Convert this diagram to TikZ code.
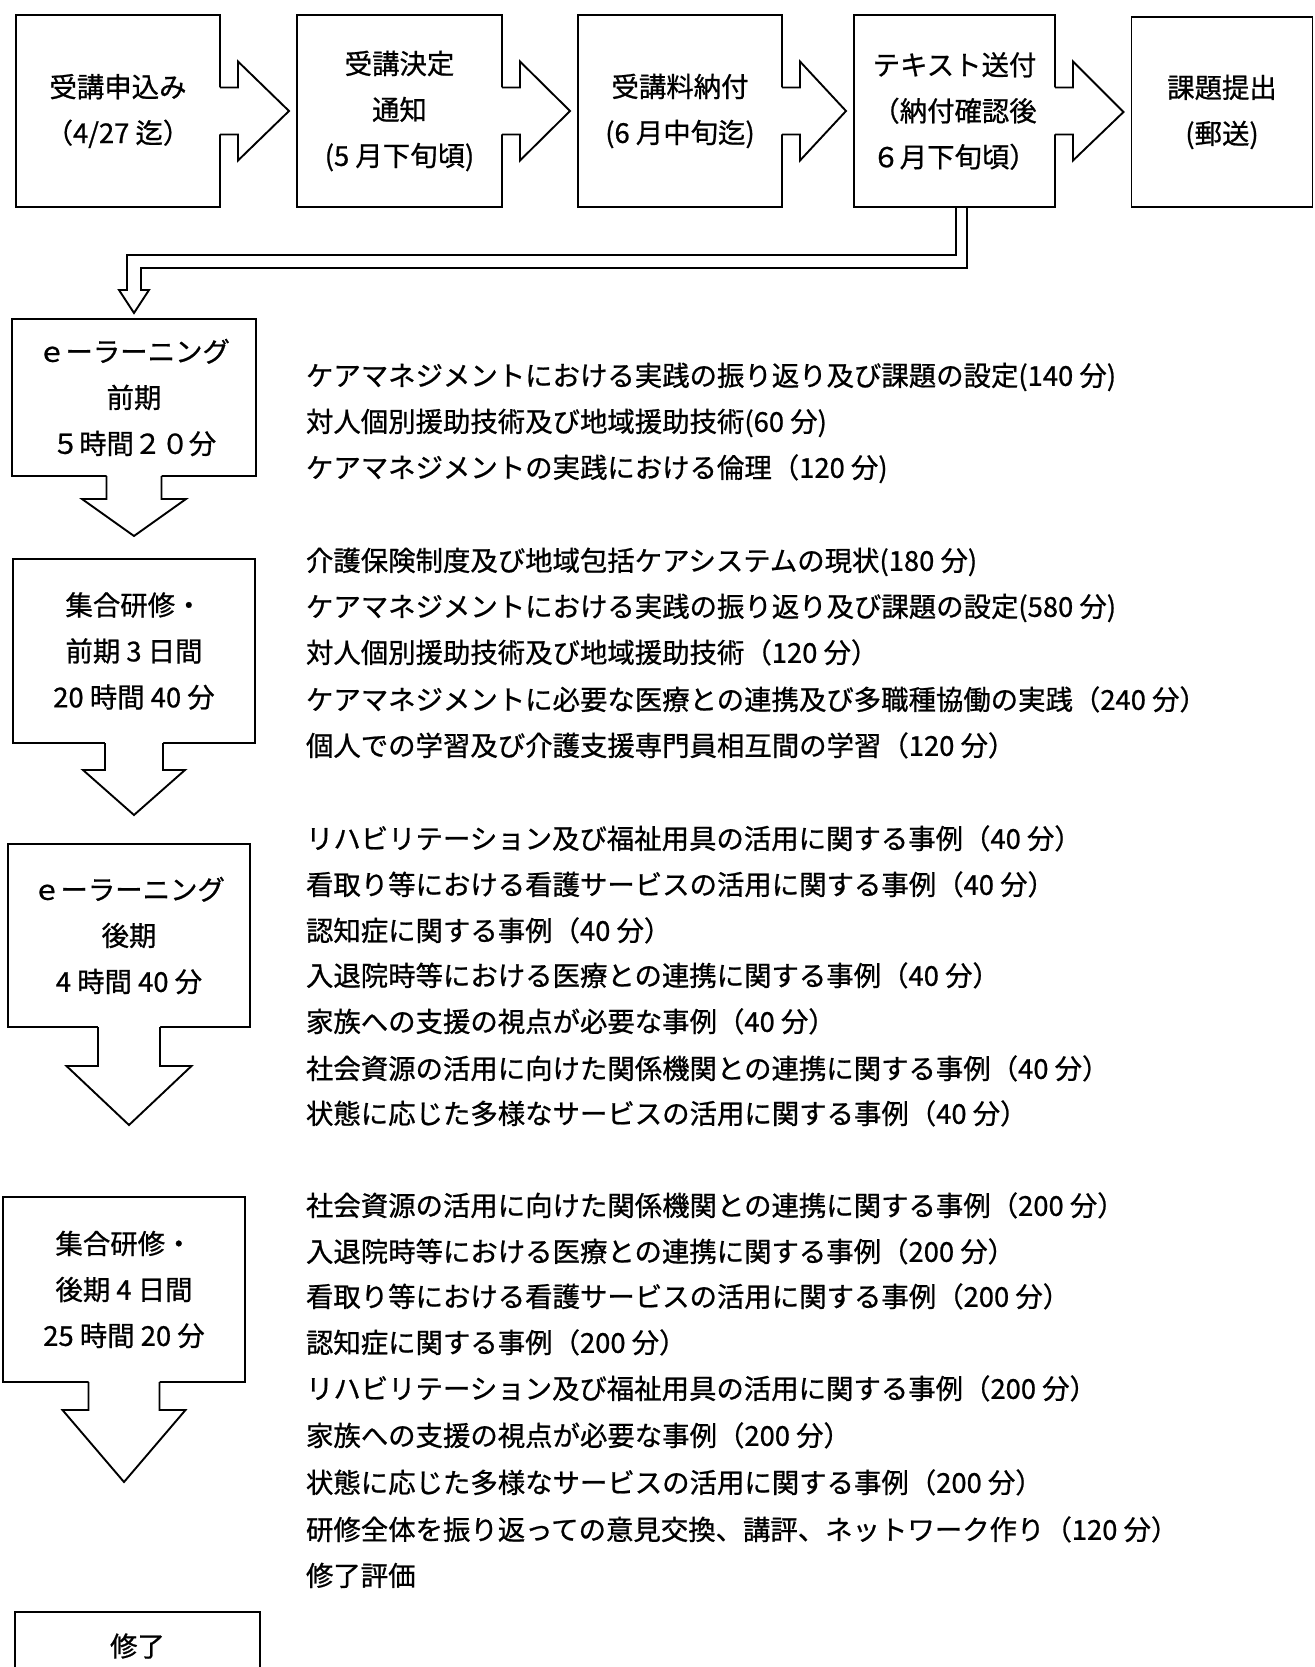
\documentclass[tikz,border=0pt]{standalone}
\usepackage{fontspec}
\setmainfont{Noto Sans CJK JP}[FakeBold=0.8]
\usetikzlibrary{calc}
\newcommand\harrow[2]{%
  \fill[white] ($(#1.east)+(-2,-23.5)$) -- ($(#1.east)+(18,-23.5)$) -- ($(#1.east)+(18,-49.5)$) -- ($(#2.west)+(-8,0)$) -- ($(#1.east)+(18,49.5)$) -- ($(#1.east)+(18,23.5)$) -- ($(#1.east)+(-2,23.5)$) -- cycle;
  \draw[line join=miter] ($(#1.east)+(0,-23.5)$) -- ($(#1.east)+(18,-23.5)$) -- ($(#1.east)+(18,-49.5)$) -- ($(#2.west)+(-8,0)$) -- ($(#1.east)+(18,49.5)$) -- ($(#1.east)+(18,23.5)$) -- ($(#1.east)+(0,23.5)$);
}
\newcommand\varrow[5]{%
  \fill[white] ($(#1.south)+(-#2,-2)$) -- ($(#1.south)+(-#2,#3)$) -- ($(#1.south)+(-#4,#3)$) -- ($(#1.south)+(0,{#3+#5})$) -- ($(#1.south)+(#4,#3)$) -- ($(#1.south)+(#2,#3)$) -- ($(#1.south)+(#2,-2)$) -- cycle;
  \draw[line join=miter] ($(#1.south)+(-#2,0)$) -- ($(#1.south)+(-#2,#3)$) -- ($(#1.south)+(-#4,#3)$) -- ($(#1.south)+(0,{#3+#5})$) -- ($(#1.south)+(#4,#3)$) -- ($(#1.south)+(#2,#3)$) -- ($(#1.south)+(#2,0)$);
}
\begin{document}
\begin{tikzpicture}[x=1pt,y=-1pt,line width=1.9pt,
  box/.style={draw,rectangle,align=center,inner sep=0pt,outer sep=0pt,
    font=\fontsize{27.4pt}{46pt}\selectfont},
  item/.style={anchor=west,inner sep=0pt,outer sep=0pt,
    font=\fontsize{27.4pt}{32pt}\selectfont,text height=0.88em,text depth=0.12em}]
\useasboundingbox (0,0) rectangle (1314,1667);
\fill[white] (0,0) rectangle (1314,1667);
\clip (0,0) rectangle (1314,1667);
% top row
\node[box,minimum width=204,minimum height=192] (b1) at (118,111) {受講申込み\\（4/27 迄）};
\node[box,minimum width=205,minimum height=192] (b2) at (399.5,111) {受講決定\\通知\\(5 月下旬頃)};
\node[box,minimum width=204,minimum height=192] (b3) at (680,111) {受講料納付\\(6 月中旬迄)};
\node[box,minimum width=201,minimum height=192] (b4) at (954.5,111) {テキスト送付\\（納付確認後\\６月下旬頃）};
\node[box,minimum width=181,minimum height=190] (b5) at (1222,112) {課題提出\\(郵送)};
\harrow{b1}{b2}
\harrow{b2}{b3}
\harrow{b3}{b4}
\harrow{b4}{b5}
% left column
\node[box,minimum width=244,minimum height=157] (b6) at (134,397.5) {ｅーラーニング\\前期\\５時間２０分};
\node[box,minimum width=242,minimum height=184] (b7) at (134,651) {集合研修・\\前期 3 日間\\20 時間 40 分};
\node[box,minimum width=242,minimum height=183] (b8) at (129,935.5) {ｅーラーニング\\後期\\4 時間 40 分};
\node[box,minimum width=242,minimum height=185] (b9) at (124,1289.5) {集合研修・\\後期 4 日間\\25 時間 20 分};
\node[box,minimum width=245,minimum height=68] (b10) at (137.5,1646) {修了};
% double-line connector b4 -> b6
\draw[line join=miter] ($(b4.south)+(1.5,0)$) -- ($(b4.south)+(1.5,48)$) -| ($(b6.north)+(-7,-29)$) -- ($(b6.north)+(-15,-29)$) -- ($(b6.north)+(0,-6)$) -- ($(b6.north)+(15,-29)$) -- ($(b6.north)+(7,-29)$) |- ($(b4.south)+(12.5,61)$) -- ($(b4.south)+(12.5,0)$);
% down arrows
\varrow{b6}{27.5}{23}{52}{37}
\varrow{b7}{29}{27}{51}{45}
\varrow{b8}{31}{39}{62.5}{59}
\varrow{b9}{35.5}{28}{61.5}{72}
% texts
\node[item] (t1) at (306,382) {ケアマネジメントにおける実践の振り返り及び課題の設定(140 分)};
\node[item] (t2) at (306,428) {対人個別援助技術及び地域援助技術(60 分)};
\node[item] (t3) at (306,474) {ケアマネジメントの実践における倫理（120 分)};
\node[item] (t4) at (306,567) {介護保険制度及び地域包括ケアシステムの現状(180 分)};
\node[item] (t5) at (306,613) {ケアマネジメントにおける実践の振り返り及び課題の設定(580 分)};
\node[item] (t6) at (306,659) {対人個別援助技術及び地域援助技術（120 分）};
\node[item] (t7) at (306,706) {ケアマネジメントに必要な医療との連携及び多職種協働の実践（240 分）};
\node[item] (t8) at (306,752) {個人での学習及び介護支援専門員相互間の学習（120 分）};
\node[item] (t9) at (306,845) {リハビリテーション及び福祉用具の活用に関する事例（40 分）};
\node[item] (t10) at (306,891) {看取り等における看護サービスの活用に関する事例（40 分）};
\node[item] (t11) at (306,937) {認知症に関する事例（40 分）};
\node[item] (t12) at (306,982) {入退院時等における医療との連携に関する事例（40 分）};
\node[item] (t13) at (306,1028) {家族への支援の視点が必要な事例（40 分）};
\node[item] (t14) at (306,1075) {社会資源の活用に向けた関係機関との連携に関する事例（40 分）};
\node[item] (t15) at (306,1120) {状態に応じた多様なサービスの活用に関する事例（40 分）};
\node[item] (t16) at (306,1212) {社会資源の活用に向けた関係機関との連携に関する事例（200 分）};
\node[item] (t17) at (306,1258) {入退院時等における医療との連携に関する事例（200 分）};
\node[item] (t18) at (306,1303) {看取り等における看護サービスの活用に関する事例（200 分）};
\node[item] (t19) at (306,1349) {認知症に関する事例（200 分）};
\node[item] (t20) at (306,1395) {リハビリテーション及び福祉用具の活用に関する事例（200 分）};
\node[item] (t21) at (306,1442) {家族への支援の視点が必要な事例（200 分）};
\node[item] (t22) at (306,1489) {状態に応じた多様なサービスの活用に関する事例（200 分）};
\node[item] (t23) at (306,1536) {研修全体を振り返っての意見交換、講評、ネットワーク作り（120 分）};
\node[item] (t24) at (306,1582) {修了評価};
\end{tikzpicture}
\end{document}
